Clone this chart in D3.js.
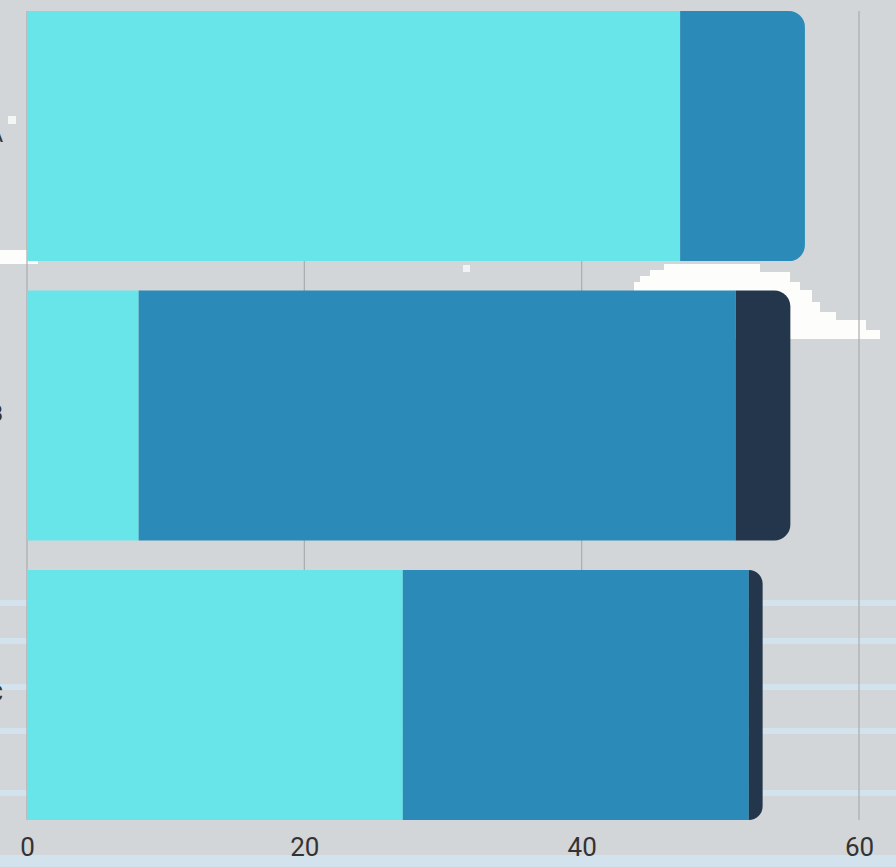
<!DOCTYPE html>
<html>
<head>
<meta charset="utf-8">
<script src="https://cdn.jsdelivr.net/npm/d3@7"></script>
<style>
  html, body { margin: 0; padding: 0; background: #d2d6d9; }
  svg { display: block; }
  .tick text { font-family: Roboto, "DejaVu Sans", sans-serif; fill: #333; }
</style>
</head>
<body>
<svg width="896" height="867"></svg>
<script>
// data
const categories = ["A", "B", "C"];
const seriesNames = ["s1", "s2", "s3"];
const s1 = [47.1, 8.05, 27.1];
const s2 = [9.0, 43.05, 24.95];
const s3 = [0, 3.95, 1.0];
const xTicks = [0, 20, 40, 60];
const colors = ["#68e5e9", "#2b8ab8", "#24364c"];

const svg = d3.select("svg");
const W = 896, H = 867;

// decorative backdrop (pixel clouds / light lines)
const deco = svg.append("g");
deco.append("rect").attr("x", 0).attr("y", 855).attr("width", W).attr("height", 12).attr("fill", "#d3e3ee");
[600, 638, 684, 728, 790].forEach(y => {
  deco.append("rect").attr("x", 0).attr("y", y).attr("width", W).attr("height", 6).attr("fill", "#d3e3ee");
});
deco.append("path").attr("fill", "#fdfdfc")
  .attr("d", "M634,290 L634,282 L640,282 L640,276 L650,276 L650,270 L664,270 L664,264 L760,264 L760,272 L790,272 L790,282 L800,282 L800,290 L812,290 L812,302 L820,302 L820,312 L836,312 L836,320 L866,320 L866,330 L880,330 L880,339 L634,339 Z");
deco.append("rect").attr("x", 0).attr("y", 250).attr("width", 38).attr("height", 14).attr("fill", "#fdfdfc");
deco.append("rect").attr("x", 8).attr("y", 116).attr("width", 8).attr("height", 8).attr("fill", "#f4f5f5");
deco.append("rect").attr("x", 463).attr("y", 265).attr("width", 7).attr("height", 7).attr("fill", "#f2f3f4");

const x = d3.scaleLinear().domain([0, 60]).range([27, 859]);
const y = d3.scaleBand().domain(categories).range([11, 820]).paddingInner(0.105).paddingOuter(0);

// grid
svg.append("g")
  .selectAll("line").data(xTicks).join("line")
  .attr("x1", d => x(d)).attr("x2", d => x(d))
  .attr("y1", 11).attr("y2", 820)
  .attr("stroke", "#a9acae").attr("stroke-width", 1.2);

// axis labels
const xAxis = svg.append("g").attr("transform", "translate(0,832)")
  .call(d3.axisBottom(x).tickValues(xTicks).tickSize(0).tickPadding(6));
xAxis.select(".domain").remove();
xAxis.selectAll("text").attr("font-size", 26).attr("dy", "0.71em");

// category labels (clipped at left edge)
svg.append("g").selectAll("text").data(categories).join("text")
  .attr("x", 3).attr("y", d => y(d) + y.bandwidth() / 2)
  .attr("text-anchor", "end").attr("dominant-baseline", "middle")
  .attr("font-family", "Roboto, sans-serif").attr("font-size", 22).attr("fill", "#333")
  .text(d => d);

// stacked bars
const rows = categories.map((c, i) => ({ cat: c, s1: s1[i], s2: s2[i], s3: s3[i] }));
const stack = d3.stack().keys(seriesNames)(rows);
const r = 16;

function segPath(x0, x1, y0, h, last) {
  const w = x1 - x0;
  if (!last) return `M${x0},${y0}h${w}v${h}h${-w}Z`;
  const rr = Math.min(r, w);
  return `M${x0},${y0}h${w - rr}a${rr},${rr} 0 0 1 ${rr},${rr}v${h - 2 * rr}a${rr},${rr} 0 0 1 ${-rr},${rr}h${-(w - rr)}Z`;
}

stack.forEach((layer, li) => {
  svg.append("g").attr("fill", colors[li])
    .selectAll("path").data(layer.filter(d => d[1] > d[0])).join("path")
    .attr("d", d => {
      const idx = rows.indexOf(d.data);
      const lastKey = seriesNames.filter(k => d.data[k] > 0).pop();
      return segPath(x(d[0]), x(d[1]), y(d.data.cat), y.bandwidth(), lastKey === seriesNames[li]);
    });
});
</script>
</body>
</html>
